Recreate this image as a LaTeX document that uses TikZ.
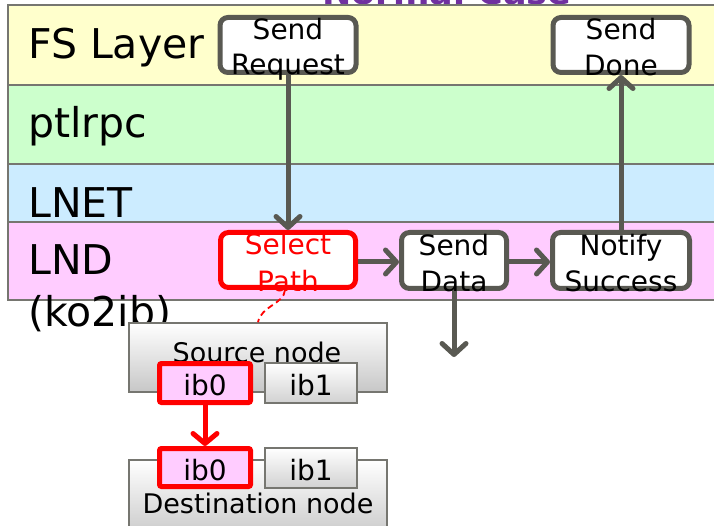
\documentclass[tikz,border=0pt]{standalone}
\usepackage{fontspec}
\setmainfont{DejaVu Sans}
\usetikzlibrary{arrows.meta}
\definecolor{yl}{HTML}{FFFFCC}
\definecolor{gr}{HTML}{CCFFCC}
\definecolor{bl}{HTML}{CCECFF}
\definecolor{pk}{HTML}{FFCCFF}
\definecolor{dk}{RGB}{89,89,82}
\definecolor{ln}{RGB}{118,118,112}
\definecolor{pu}{HTML}{7030A0}
\begin{document}
\begin{tikzpicture}[x=1pt,y=-1pt,
 layerbox/.style={draw=ln,line width=1.5pt},
 lbl/.style={anchor=base west,inner sep=0,font=\fontsize{41}{49}\selectfont},
 stepbox/.style={draw=dk,line width=5pt,rounded corners=8pt,fill=white,inner sep=0},
 redbox/.style={stepbox,draw=red},
 btxt/.style={anchor=base,inner sep=0,font=\fontsize{28}{34}\selectfont},
 ntxt/.style={anchor=base,inner sep=0,font=\fontsize{27}{32}\selectfont},
 flow/.style={draw=dk,line width=5pt,-{Straight Barb[length=11pt,width=24pt,round]}},
 hostbox/.style={draw=ln,line width=1.5pt,top color=white,bottom color=black!22,inner sep=0},
 ibred/.style={draw=red,line width=5pt,fill=pk,rounded corners=2pt,inner sep=0,minimum width=91pt,minimum height=39pt},
 ibgray/.style={draw=ln,line width=1.5pt,top color=white,bottom color=black!18,inner sep=0,minimum width=92pt,minimum height=40pt},
]
\useasboundingbox (0,0) rectangle (714,526);
\clip (0,0) rectangle (714,526);

% title (mostly cut off, as in the reference)
\node[anchor=base,inner sep=0,font=\fontsize{35}{40}\selectfont\bfseries,text=pu] (title) at (447,5) {Normal Case};

% layers
\draw[layerbox,fill=yl] (8,5) rectangle (720,85);
\draw[layerbox,fill=gr] (8,85) rectangle (720,164);
\draw[layerbox,fill=bl] (8,164) rectangle (720,222);
\draw[layerbox,fill=pk] (8,222) rectangle (720,300);

\node[lbl] (lfs) at (28,59) {FS Layer};
\node[lbl] (lptl) at (28,138) {ptlrpc};
\node[lbl] (lnet) at (28,218) {LNET};
\node[lbl] (llnd) at (28,275) {LND};
\node[lbl] (lko) at (28,326) {(ko2ib)};

% step boxes
\node[stepbox,minimum width=136pt,minimum height=55pt] (sreq) at (288,45) {};
\node[stepbox,minimum width=136pt,minimum height=55pt] (sdone) at (621,45) {};
\node[redbox,minimum width=135pt,minimum height=55pt] (selp) at (288,260) {};
\node[stepbox,minimum width=105pt,minimum height=56pt] (sdata) at (454,260.5) {};
\node[stepbox,minimum width=137pt,minimum height=56pt] (notif) at (621,260.5) {};

\node[btxt] (t1a) at (288,40) {Send};
\node[btxt] (t1b) at (288,75) {Request};
\node[btxt] (t2a) at (621,40) {Send};
\node[btxt] (t2b) at (621,76) {Done};
\node[btxt,text=red] (t3a) at (288,255) {Select};
\node[btxt,text=red] (t3b) at (288,292) {Path};
\node[btxt] (t4a) at (454,256) {Send};
\node[btxt] (t4b) at (454,292) {Data};
\node[btxt] (t5a) at (621,256) {Notify};
\node[btxt] (t5b) at (621,292) {Success};

% flow arrows
\coordinate (dataout) at (454,357);
\draw[flow] (sreq.south) -- (selp.north);
\draw[flow] ([yshift=-2pt]selp.east) -- ([yshift=-2pt]selp.east -| sdata.west);
\draw[flow] ([yshift=-1.5pt]sdata.east) -- ([yshift=-1.5pt]sdata.east -| notif.west);
\draw[flow] (notif.north) -- (sdone.south);
\draw[flow] (sdata.south) -- (dataout);

% source node
\node[hostbox,minimum width=258pt,minimum height=69pt] (src) at (258,357.5) {};
\node[ntxt] (srct) at (257,362) {Source node};
\node[ibred] (sib0) at (205,383) {};
\node[ibgray] (sib1) at (311,383) {};
\node[btxt] (sib0t) at (205,395) {ib0};
\node[btxt] (sib1t) at (311,395) {ib1};

% destination node
\node[hostbox,minimum width=258pt,minimum height=80pt] (dst) at (258,500) {};
\node[ntxt] (dstt) at (258,513) {Destination node};
\node[ibred,minimum height=38pt] (dib0) at (205,467.5) {};
\node[ibgray] (dib1) at (311,468) {};
\node[btxt] (dib0t) at (205,480) {ib0};
\node[btxt] (dib1t) at (311,480) {ib1};

% red connectors
\draw[red,line width=5pt,-{Straight Barb[length=10pt,width=24pt,round]}] (sib0.south) -- (dib0.north);
\draw[red,line width=1.8pt,dash pattern=on 6pt off 4pt] ([xshift=-3pt]selp.south) .. controls (284,304) and (261,306) .. (src.north);
\end{tikzpicture}
\end{document}
